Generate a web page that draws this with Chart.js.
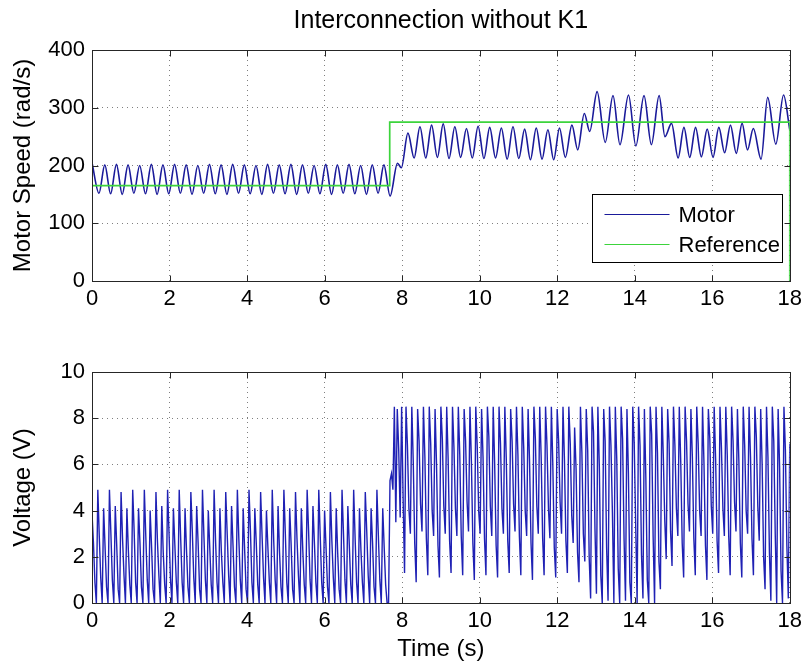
<!DOCTYPE html>
<html>
<head>
<meta charset="utf-8">
<script src="https://cdn.jsdelivr.net/npm/chart.js@4.4.1/dist/chart.umd.min.js"></script>
<style>
  html, body { margin: 0; padding: 0; background: #fff; }
  #wrap { position: relative; width: 807px; height: 666px; }
  #speed { position: absolute; left: 0; top: 0; }
  #volt { position: absolute; left: 0; top: 330px; }
</style>
</head>
<body>
<div id="wrap">
  <canvas id="speed" width="807" height="330"></canvas>
  <canvas id="volt" width="807" height="336"></canvas>
</div>
<script>
// ---- Motor speed (rad/s): turning points of the measured response ----
const speedTime = [
  0.00, 0.18, 0.33, 0.48, 0.63, 0.78, 0.93, 1.08, 1.23, 1.38, 1.53, 1.68, 1.83,
  1.98, 2.13, 2.28, 2.43, 2.58, 2.73, 2.88, 3.03, 3.18, 3.33, 3.48, 3.63, 3.78,
  3.93, 4.08, 4.23, 4.38, 4.53, 4.68, 4.83, 4.98, 5.13, 5.28, 5.43, 5.58, 5.73,
  5.88, 6.03, 6.18, 6.33, 6.48, 6.63, 6.78, 6.93, 7.08, 7.23, 7.38, 7.53, 7.69,
  7.88, 7.98, 8.15, 8.31, 8.46, 8.61, 8.76, 8.91, 9.06, 9.21, 9.36, 9.51, 9.66,
  9.81, 9.96, 10.11, 10.26, 10.41, 10.56, 10.71, 10.86, 11.01, 11.16, 11.31,
  11.46, 11.61, 11.76, 11.91, 12.06, 12.21, 12.38, 12.53, 12.70, 12.84, 13.03,
  13.24, 13.44, 13.62, 13.84, 14.03, 14.24, 14.43, 14.63, 14.78, 14.95, 15.12,
  15.27, 15.42, 15.57, 15.72, 15.87, 16.02, 16.17, 16.32, 16.47, 16.62, 16.77,
  16.91, 17.06, 17.26, 17.43, 17.64, 17.84, 18.00
];
const speedValue = [
  205, 152, 201, 151, 202, 150, 201, 152, 200, 151, 202, 150, 201,
  151, 202, 152, 201, 150, 200, 152, 202, 151, 201, 150, 202, 152,
  201, 151, 200, 150, 202, 152, 201, 151, 202, 150, 201, 152, 200,
  151, 202, 150, 201, 152, 202, 151, 200, 150, 201, 152, 201, 147,
  204, 196, 256, 213, 267, 213, 270, 214, 272, 212, 267, 214, 264,
  213, 268, 212, 266, 213, 265, 211, 267, 212, 263, 210,
  265, 211, 262, 210, 265, 214, 270, 227, 290, 259, 328,
  240, 321, 236, 322, 234, 321, 236, 321, 250, 273, 213,
  266, 214, 266, 215, 263, 214, 266, 222, 270, 221, 273,
  227, 264, 211, 318, 237, 322, 262
];

// ---- Speed reference (rad/s) ----
const refTime  = [0, 7.68, 7.68, 18, 18];
const refValue = [165, 165, 275, 275, 0];

// ---- Motor voltage (V), one sample every VOLT_SAMPLE_PERIOD seconds ----
const VOLT_SAMPLE_PERIOD = 0.0375;
const voltValue = [
  3.9, 2.6, 0.9, 0, 4.9, 2.9, 1.1, 0,
  4.1, 2.4, 0.7, 0, 4.9, 3.0, 1.0, 0,
  4.2, 2.5, 0.6, 0, 4.8, 2.8, 1.2, 0,
  4.1, 2.3, 0.8, 0, 4.9, 3.1, 0.9, 0,
  4.1, 2.6, 0.7, 0, 4.9, 2.9, 1.0, 0,
  4.0, 2.4, 0.6, 0, 4.8, 2.7, 1.2, 0,
  4.2, 2.2, 0.8, 0, 4.9, 3.0, 1.0, 0,
  4.1, 2.5, 0.9, 0, 4.9, 2.8, 0.9, 0,
  4.1, 2.3, 0.7, 0, 4.8, 3.1, 1.1, 0,
  4.2, 2.6, 0.6, 0, 4.9, 2.9, 1.0, 0,
  4.0, 2.4, 0.8, 0, 4.9, 2.7, 0.9, 0,
  4.1, 2.2, 0.9, 0, 4.8, 3.0, 1.2, 0,
  4.2, 2.5, 0.7, 0, 4.9, 2.8, 1.0, 0,
  4.1, 2.3, 0.6, 0, 4.9, 3.1, 0.9, 0,
  4.1, 2.6, 0.8, 0, 4.8, 2.9, 1.1, 0,
  4.0, 2.4, 0.9, 0, 4.9, 2.7, 1.0, 0,
  4.2, 2.2, 0.7, 0, 4.9, 3.0, 0.9, 0,
  4.1, 2.5, 0.6, 0, 4.8, 2.8, 1.2, 0,
  4.1, 2.3, 0.8, 0, 4.9, 3.1, 1.0, 0,
  4.2, 2.6, 0.9, 0, 4.9, 2.9, 0.9, 0,
  4.0, 2.4, 0.7, 0, 4.8, 2.7, 1.1, 0,
  4.1, 2.2, 0.6, 0, 4.9, 3.0, 1.0, 0,
  4.2, 2.5, 0.8, 0, 4.9, 2.8, 0.9, 0,
  4.1, 2.3, 0.9, 0, 4.8, 3.1, 1.2, 0,
  4.1, 2.6, 0.7, 0, 4.9, 2.9, 1.0, 0,
  4.1, 2.4, 0.8, 0, 0, 5.3, 5.6, 4.9,
  8.5, 3.5, 8.4, 6.6, 3.7, 8.5, 4.6, 1.3,
  8.5, 6.8, 4.1, 3.0, 8.5, 6.1, 2.6, 0.9,
  8.4, 7.0, 4.3, 3.1, 8.5, 6.3, 2.8, 1.2,
  8.5, 6.9, 4.0, 2.9, 8.4, 6.0, 2.5, 1.1,
  8.5, 7.1, 4.2, 3.0, 8.5, 6.2, 2.7, 1.3,
  8.5, 6.7, 4.1, 2.9, 8.5, 6.4, 2.9, 1.2,
  8.4, 7.0, 4.4, 3.1, 8.5, 6.1, 2.6, 1.0,
  8.5, 6.8, 4.0, 3.0, 8.4, 6.3, 2.8, 1.2,
  8.5, 7.2, 4.2, 2.9, 8.5, 6.0, 2.5, 1.1,
  8.5, 6.9, 4.1, 3.0, 8.5, 6.2, 2.7, 1.3,
  8.4, 7.0, 4.3, 3.1, 8.5, 6.4, 2.9, 1.2,
  8.5, 6.7, 4.0, 2.9, 8.4, 6.1, 2.6, 1.0,
  8.5, 7.1, 4.2, 3.0, 8.5, 6.3, 2.8, 1.2,
  8.5, 6.8, 4.1, 2.8, 8.5, 6.0, 2.4, 1.1,
  8.4, 7.0, 4.4, 3.0, 8.5, 6.2, 2.7, 1.3,
  8.5, 6.9, 3.8, 2.6, 7.6, 5.8, 2.2, 0.9,
  8.5, 6.5, 3.0, 1.8, 8.4, 6.6, 2.0, 0.2,
  8.5, 7.4, 3.2, 0.4, 8.5, 5.9, 1.2, 0.0,
  8.4, 7.0, 2.4, 0.1, 8.5, 6.8, 3.9, 0.0,
  8.5, 6.2, 1.5, 0.0, 8.5, 7.1, 2.8, 0.1,
  8.4, 5.6, 0.9, 0.0, 8.5, 6.9, 3.4, 0.0,
  8.5, 6.8, 2.1, 0.2, 8.4, 5.4, 1.0, 0.0,
  8.5, 7.3, 2.9, 0.0, 8.5, 6.5, 1.8, 0.6,
  8.5, 6.4, 3.6, 1.9, 8.4, 6.9, 3.1, 1.6,
  8.5, 6.8, 4.1, 2.9, 8.5, 6.1, 2.6, 1.1,
  8.5, 7.0, 4.3, 3.1, 8.4, 6.3, 2.8, 1.2,
  8.5, 6.9, 4.0, 2.9, 8.5, 6.0, 2.5, 1.0,
  8.4, 7.1, 4.2, 3.0, 8.5, 6.2, 2.7, 1.3,
  8.5, 6.7, 4.1, 2.9, 8.5, 6.4, 2.9, 1.2,
  8.5, 7.0, 4.4, 3.1, 8.4, 6.1, 2.6, 1.1,
  8.5, 6.8, 4.0, 3.0, 8.5, 6.3, 2.8, 1.2,
  8.5, 7.2, 4.2, 2.7, 8.4, 6.0, 2.0, 0.6,
  8.5, 6.3, 2.2, 0.1, 8.5, 7.0, 3.0, 0.0,
  8.4, 5.9, 1.4, 0.0, 8.5, 6.6, 2.5, 0.2,
  6.9
];

// ---- Axes ----
const timeTicks = [0, 2, 4, 6, 8, 10, 12, 14, 16, 18];
const speedTicks = [0, 100, 200, 300, 400];
const voltTicks = [0, 2, 4, 6, 8, 10];

const FONT = '"Liberation Sans", Arial, Helvetica, sans-serif';
const MOTOR_BLUE = '#1a1a9a';
const REF_GREEN = '#3cd43c';
const VOLT_BLUE = '#1f21b4';

const toPoints = (xs, ys) => ys.map((v, i) => ({ x: xs[i], y: v }));
const voltTime = voltValue.map((_, i) => i * VOLT_SAMPLE_PERIOD);

// Box around the plot area with inward tick marks on all four sides
const framePlugin = {
  id: 'frame',
  afterDatasetsDraw(chart) {
    const { ctx, chartArea: a, scales: { x, y } } = chart;
    const L = Math.round(a.left) + 0.5, R = Math.round(a.right) + 0.5;
    const T = Math.round(a.top) + 0.5, B = Math.round(a.bottom) + 0.5;
    const len = 6;
    ctx.save();
    ctx.strokeStyle = '#262626';
    ctx.lineWidth = 1;
    ctx.beginPath();
    x.ticks.forEach((t, i) => {
      const px = Math.round(x.getPixelForTick(i)) + 0.5;
      ctx.moveTo(px, B); ctx.lineTo(px, B - len);
      ctx.moveTo(px, T); ctx.lineTo(px, T + len);
    });
    y.ticks.forEach((t, i) => {
      const py = Math.round(y.getPixelForTick(i)) + 0.5;
      ctx.moveTo(L, py); ctx.lineTo(L + len, py);
      ctx.moveTo(R, py); ctx.lineTo(R - len, py);
    });
    ctx.stroke();
    ctx.strokeRect(L, T, R - L, B - T);
    ctx.restore();
  }
};

// Legend box in the lower right corner of the plot area
const boxLegend = {
  id: 'boxLegend',
  afterDraw(chart, args, opts) {
    if (!opts.show) return;
    const { ctx, chartArea: a } = chart;
    const w = 190, h = 68;
    const left = Math.round(a.right - 8 - w) + 0.5;
    const top = Math.round(a.bottom - 19 - h) + 0.5;
    ctx.save();
    ctx.fillStyle = '#fff';
    ctx.fillRect(left, top, w, h);
    ctx.strokeStyle = '#000';
    ctx.lineWidth = 1;
    ctx.strokeRect(left, top, w, h);
    ctx.font = '22px ' + FONT;
    ctx.textBaseline = 'middle';
    chart.data.datasets.forEach((ds, i) => {
      const yy = Math.round(top + 19 + i * 30) + 0.5;
      ctx.strokeStyle = ds.borderColor;
      ctx.lineWidth = 1.2;
      ctx.beginPath();
      ctx.moveTo(left + 12, yy);
      ctx.lineTo(left + 77, yy);
      ctx.stroke();
      ctx.fillStyle = '#000';
      ctx.fillText(ds.label, left + 86, yy + 1);
    });
    ctx.restore();
  }
};

// Title centred over the plot area
const centerTitle = {
  id: 'centerTitle',
  afterDraw(chart, args, opts) {
    if (!opts.text) return;
    const { ctx, chartArea: a } = chart;
    ctx.save();
    ctx.font = opts.size + 'px ' + FONT;
    ctx.fillStyle = '#000';
    ctx.textAlign = 'center';
    ctx.textBaseline = 'middle';
    ctx.fillText(opts.text, (a.left + a.right) / 2, opts.y);
    ctx.restore();
  }
};

function scaleX(axisTitle, height) {
  return {
    type: 'linear', min: 0, max: 18,
    afterBuildTicks: s => { s.ticks = timeTicks.map(v => ({ value: v })); },
    afterFit: s => { s.height = height; },
    grid: { color: 'rgba(0,0,0,0.5)', lineWidth: 1, drawTicks: false },
    border: { display: false, dash: [1, 4] },
    ticks: { color: '#000', padding: 5, maxRotation: 0, font: { family: FONT, size: 22 } },
    title: axisTitle
      ? { display: true, text: axisTitle, color: '#000', font: { family: FONT, size: 24 }, padding: { top: 0, bottom: 2 } }
      : { display: false }
  };
}

function scaleY(min, max, ticks, axisTitle) {
  return {
    type: 'linear', min: min, max: max,
    afterBuildTicks: s => { s.ticks = ticks.map(v => ({ value: v })); },
    afterFit: s => { s.width = 92; },
    grid: { color: 'rgba(0,0,0,0.5)', lineWidth: 1, drawTicks: false },
    border: { display: false, dash: [1, 4] },
    ticks: { color: '#000', padding: 7, font: { family: FONT, size: 22 } },
    title: { display: true, text: axisTitle, color: '#000', font: { family: FONT, size: 24 }, padding: { top: 9, bottom: 0 } }
  };
}

Chart.register(framePlugin, boxLegend, centerTitle);

new Chart(document.getElementById('speed'), {
  type: 'line',
  data: {
    datasets: [
      {
        label: 'Motor',
        data: toPoints(speedTime, speedValue),
        borderColor: MOTOR_BLUE,
        borderWidth: 1.6,
        pointRadius: 0,
        cubicInterpolationMode: 'monotone',
        fill: false
      },
      {
        label: 'Reference',
        data: toPoints(refTime, refValue),
        borderColor: REF_GREEN,
        borderWidth: 1.7,
        pointRadius: 0,
        tension: 0,
        fill: false,
        order: -1
      }
    ]
  },
  options: {
    responsive: false,
    animation: false,
    layout: { padding: { top: 50, right: 13, left: 0, bottom: 0 } },
    scales: {
      x: scaleX(null, 49),
      y: scaleY(0, 400, speedTicks, 'Motor Speed (rad/s)')
    },
    plugins: {
      legend: { display: false },
      tooltip: { enabled: false },
      boxLegend: { show: true },
      centerTitle: { text: 'Interconnection without K1', size: 25, y: 21 }
    }
  }
});

new Chart(document.getElementById('volt'), {
  type: 'line',
  data: {
    datasets: [
      {
        label: 'Voltage',
        data: toPoints(voltTime, voltValue),
        borderColor: VOLT_BLUE,
        borderWidth: 1.4,
        pointRadius: 0,
        tension: 0,
        fill: false
      }
    ]
  },
  options: {
    responsive: false,
    animation: false,
    layout: { padding: { top: 42, right: 13, left: 0, bottom: 0 } },
    scales: {
      x: scaleX('Time (s)', 63),
      y: scaleY(0, 10, voltTicks, 'Voltage (V)')
    },
    plugins: {
      legend: { display: false },
      tooltip: { enabled: false },
      boxLegend: { show: false },
      centerTitle: { text: '' }
    }
  }
});
</script>
</body>
</html>
